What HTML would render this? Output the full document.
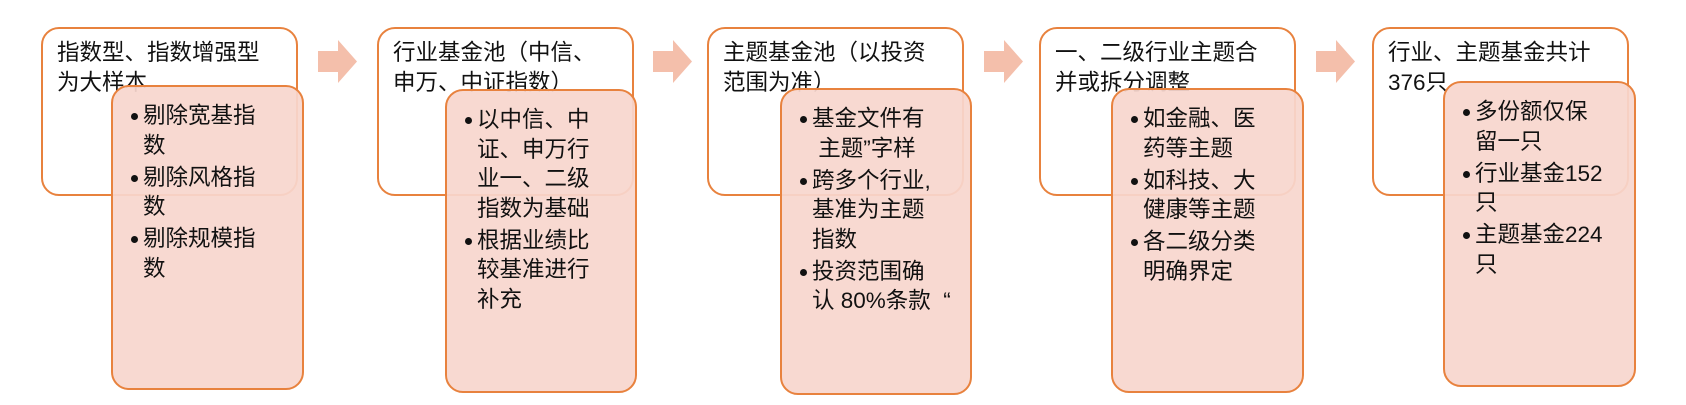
<!DOCTYPE html>
<html><head><meta charset="utf-8"><style>
body{margin:0;width:1686px;height:405px;background:#fff;position:relative;overflow:hidden;font-family:"Liberation Sans","Noto Sans CJK SC",sans-serif;color:#111;}
.o{position:absolute;top:27px;height:169px;width:257px;border:2px solid #e8823e;border-radius:18px;background:#fff;box-sizing:border-box;}
.o div{position:absolute;left:14px;top:9px;font-size:22.5px;line-height:30px;white-space:nowrap;}
.i{position:absolute;border:2px solid #e8823e;border-radius:18px;background:rgba(248,214,205,0.93);box-sizing:border-box;}
.i ul{list-style:none;margin:0;padding:0;position:absolute;left:18px;top:14px;font-size:22.5px;line-height:29.5px;}
.i li{position:relative;padding-left:12px;margin-bottom:2.5px;white-space:nowrap;}
.i li:before{content:"";position:absolute;left:0;top:12px;width:7px;height:7px;border-radius:50%;background:#111;}
.a{position:absolute;top:40px;width:39px;height:43px;}
</style></head><body>
<svg class="a" style="left:318px" viewBox="0 0 39 43"><polygon points="0,11 20,11 20,0 39,21.5 20,43 20,32 0,32" fill="#f4bfab"/></svg>
<svg class="a" style="left:653px" viewBox="0 0 39 43"><polygon points="0,11 20,11 20,0 39,21.5 20,43 20,32 0,32" fill="#f4bfab"/></svg>
<svg class="a" style="left:984px" viewBox="0 0 39 43"><polygon points="0,11 20,11 20,0 39,21.5 20,43 20,32 0,32" fill="#f4bfab"/></svg>
<svg class="a" style="left:1316px" viewBox="0 0 39 43"><polygon points="0,11 20,11 20,0 39,21.5 20,43 20,32 0,32" fill="#f4bfab"/></svg>

<div class="o" style="left:41px"><div>指数型、指数增强型<br>为大样本</div></div>
<div class="i" style="left:111px;top:85px;width:193px;height:305px"><ul>
<li>剔除宽基指<br>数</li><li>剔除风格指<br>数</li><li>剔除规模指<br>数</li></ul></div>

<div class="o" style="left:377px"><div>行业基金池（中信、<br>申万、中证指数）</div></div>
<div class="i" style="left:445px;top:89px;width:192px;height:304px"><ul>
<li>以中信、中<br>证、申万行<br>业一、二级<br>指数为基础</li><li>根据业绩比<br>较基准进行<br>补充</li></ul></div>

<div class="o" style="left:707px"><div>主题基金池（以投资<br>范围为准）</div></div>
<div class="i" style="left:780px;top:88px;width:192px;height:307px"><ul>
<li>基金文件有<br>&nbsp;主题”字样</li><li>跨多个行业,<br>基准为主题<br>指数</li><li>投资范围确<br>认 80%条款 &nbsp;“</li></ul></div>

<div class="o" style="left:1039px"><div>一、二级行业主题合<br>并或拆分调整</div></div>
<div class="i" style="left:1111px;top:88px;width:193px;height:305px"><ul>
<li>如金融、医<br>药等主题</li><li>如科技、大<br>健康等主题</li><li>各二级分类<br>明确界定</li></ul></div>

<div class="o" style="left:1372px"><div>行业、主题基金共计<br>376只</div></div>
<div class="i" style="left:1443px;top:81px;width:193px;height:306px"><ul>
<li>多份额仅保<br>留一只</li><li>行业基金152<br>只</li><li>主题基金224<br>只</li></ul></div>
</body></html>
